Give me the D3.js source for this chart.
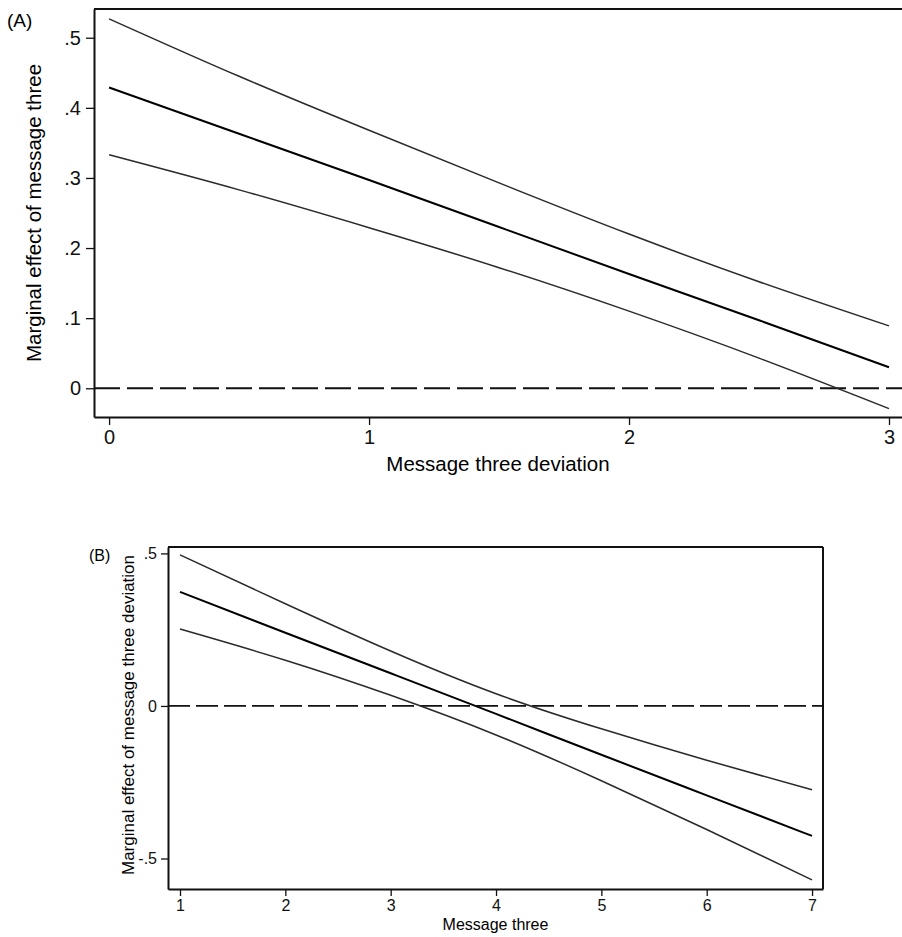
<!DOCTYPE html>
<html>
<head>
<meta charset="utf-8">
<script src="https://cdn.jsdelivr.net/npm/d3@7"></script>
<style>
  body { margin: 0; background: #fff; }
  svg { display: block; font-family: "Liberation Sans", Arial, sans-serif; }
  .axis path, .axis line { stroke: #111; }
  .axis text { fill: #111; }
</style>
</head>
<body>
<div id="chart"></div>
<script>
"use strict";

// panel A: marginal effect of message three over message three deviation
var devX = [0, 0.5, 1, 1.5, 2, 2.5, 3];
var devEffect = [0.429, 0.363, 0.297, 0.230, 0.163, 0.097, 0.030];
var devUpper = [0.527, 0.445, 0.368, 0.293, 0.220, 0.152, 0.089];
var devLower = [0.333, 0.283, 0.229, 0.172, 0.110, 0.043, -0.029];
var devXTicks = [0, 1, 2, 3];
var devYTicks = [0, 0.1, 0.2, 0.3, 0.4, 0.5];

// panel B: marginal effect of message three deviation over message three
var msgX = [1, 2, 3, 4, 5, 6, 7];
var msgEffect = [0.374, 0.240, 0.107, -0.026, -0.160, -0.293, -0.426];
var msgUpper = [0.495, 0.335, 0.180, 0.040, -0.075, -0.178, -0.275];
var msgLower = [0.252, 0.150, 0.035, -0.095, -0.245, -0.405, -0.570];
var msgXTicks = [1, 2, 3, 4, 5, 6, 7];
var msgYTicks = [-0.5, 0, 0.5];

var width = 902, height = 937;

var svg = d3.select("#chart").append("svg")
    .attr("width", width)
    .attr("height", height);

//strip the leading zero like stata does (.5, -.5)
function stataFmt(d) {
    if (d === 0) return "0";
    return String(+d.toFixed(2)).replace(/^(-?)0\./, "$1.");
}

function drawPanel(opt) {
    var x = d3.scaleLinear().domain(opt.xDomain).range([opt.left, opt.right]);
    var y = d3.scaleLinear().domain(opt.yDomain).range([opt.bottom, opt.top]);
    var g = svg.append("g");

    //frame
    var frame = g.append("g").attr("fill", "none").attr("stroke", "#111").attr("stroke-width", opt.frameWidth);
    frame.append("line").attr("x1", opt.left).attr("x2", opt.right).attr("y1", opt.top).attr("y2", opt.top);
    if (opt.rightBorder) {
        frame.append("line").attr("x1", opt.right).attr("x2", opt.right).attr("y1", opt.top).attr("y2", opt.bottom);
    }

    //axes
    g.append("g")
        .attr("class", "axis")
        .attr("transform", "translate(" + opt.left + ",0)")
        .call(d3.axisLeft(y).tickValues(opt.yTicks).tickFormat(stataFmt)
            .tickSize(opt.tickSize).tickPadding(opt.tickPad).tickSizeOuter(0))
        .call(function(a) {
            a.select(".domain").attr("stroke-width", opt.frameWidth);
            a.selectAll("line").attr("stroke-width", 1.3);
            a.selectAll("text").style("font-size", opt.tickFont + "px");
        });

    g.append("g")
        .attr("class", "axis")
        .attr("transform", "translate(0," + opt.bottom + ")")
        .call(d3.axisBottom(x).tickValues(opt.xTicks).tickFormat(d3.format("d"))
            .tickSize(opt.tickSize).tickPadding(opt.tickPad).tickSizeOuter(0))
        .call(function(a) {
            a.select(".domain").attr("stroke-width", opt.frameWidth);
            a.selectAll("line").attr("stroke-width", 1.3);
            a.selectAll("text").style("font-size", opt.tickFont + "px");
        });

    //zero reference line
    g.append("line")
        .attr("x1", opt.left).attr("x2", opt.right)
        .attr("y1", y(0)).attr("y2", y(0))
        .attr("stroke", "#111")
        .attr("stroke-width", 1.8)
        .attr("stroke-dasharray", opt.dash);

    var line = d3.line()
        .x(function(d) { return x(d[0]); })
        .y(function(d) { return y(d[1]); })
        .curve(d3.curveNatural);

    //confidence bounds first, estimate on top
    [opt.upper, opt.lower].forEach(function(vals) {
        g.append("path")
            .datum(opt.xs.map(function(v, i) { return [v, vals[i]]; }))
            .attr("fill", "none")
            .attr("stroke", "#2a2a2a")
            .attr("stroke-width", 1.5)
            .attr("d", line);
    });
    g.append("path")
        .datum(opt.xs.map(function(v, i) { return [v, opt.effect[i]]; }))
        .attr("fill", "none")
        .attr("stroke", "#000")
        .attr("stroke-width", 2)
        .attr("d", line);

    //labels
    g.append("text")
        .attr("x", opt.panelX).attr("y", opt.panelY)
        .style("font-size", opt.panelFont + "px")
        .text(opt.panel);

    g.append("text")
        .attr("text-anchor", "middle")
        .attr("x", (opt.left + opt.right) / 2)
        .attr("y", opt.xTitleY)
        .style("font-size", opt.xTitleFont + "px")
        .text(opt.xTitle);

    g.append("text")
        .attr("text-anchor", "middle")
        .attr("transform", "translate(" + opt.yTitleX + "," + opt.yTitleCenter + ") rotate(-90)")
        .style("font-size", opt.yTitleFont + "px")
        .text(opt.yTitle);
}

drawPanel({
    xs: devX, effect: devEffect, upper: devUpper, lower: devLower,
    xTicks: devXTicks, yTicks: devYTicks,
    xDomain: [-0.058, 3.05], yDomain: [-0.041, 0.541],
    left: 94, right: 902, top: 9, bottom: 417,
    rightBorder: false, frameWidth: 2,
    tickSize: 8, tickPad: 5, tickFont: 20,
    dash: "26,7",
    panel: "(A)", panelX: 7, panelY: 27, panelFont: 19,
    xTitle: "Message three deviation", xTitleY: 471, xTitleFont: 20.5,
    yTitle: "Marginal effect of message three", yTitleX: 41, yTitleCenter: 213, yTitleFont: 20.5
});

drawPanel({
    xs: msgX, effect: msgEffect, upper: msgUpper, lower: msgLower,
    xTicks: msgXTicks, yTicks: msgYTicks,
    xDomain: [0.886, 7.104], yDomain: [-0.6, 0.521],
    left: 168, right: 823, top: 547, bottom: 889,
    rightBorder: true, frameWidth: 2,
    tickSize: 7, tickPad: 4, tickFont: 16,
    dash: "22,6",
    panel: "(B)", panelX: 89, panelY: 561, panelFont: 16,
    xTitle: "Message three", xTitleY: 930, xTitleFont: 16,
    yTitle: "Marginal effect of message three deviation", yTitleX: 134, yTitleCenter: 715, yTitleFont: 17
});
</script>
</body>
</html>
